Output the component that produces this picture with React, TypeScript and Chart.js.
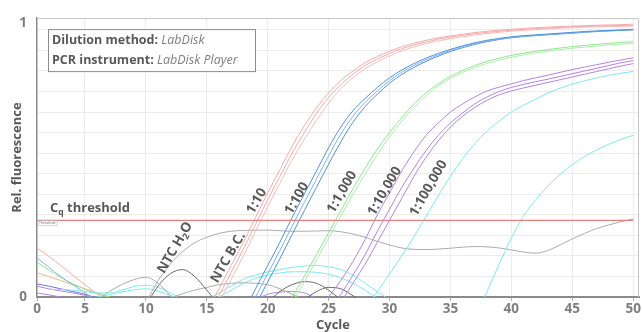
import React, { useEffect, useRef } from "react";
import { Chart, registerables } from "chart.js";
Chart.register(...registerables);

// ---------- axis ----------
const X_MIN = 1.06;
const X_MAX = 50.48;
const Y_MAX = 1.018;
const X_TICKS = [5, 10, 15, 20, 25, 30, 35, 40, 45, 50];
const Y_GRID = [0.075, 0.15, 0.225, 0.3, 0.375, 0.45, 0.525, 0.6, 0.675, 0.75, 0.825, 0.9, 0.975];
const THRESHOLD = 0.28;
const THRESHOLD_END = 50;

// ---------- series (value per cycle, starting at *Start) ----------
const pink1Start = 15;
const pink1 = [-0.06, 0.03, 0.115, 0.2, 0.29, 0.38, 0.465, 0.55, 0.625, 0.69, 0.745, 0.79, 0.825, 0.855, 0.878, 0.897, 0.913, 0.926, 0.937, 0.946, 0.953, 0.959, 0.965, 0.97, 0.974, 0.977, 0.98, 0.983, 0.985, 0.987, 0.989, 0.99, 0.992, 0.993, 0.994, 0.996];
const pink2Start = 15;
const pink2 = [-0.08, 0.005, 0.09, 0.175, 0.265, 0.355, 0.44, 0.525, 0.6, 0.67, 0.728, 0.775, 0.813, 0.845, 0.869, 0.889, 0.906, 0.92, 0.931, 0.941, 0.949, 0.955, 0.961, 0.966, 0.97, 0.974, 0.977, 0.98, 0.982, 0.984, 0.986, 0.988, 0.989, 0.99, 0.991, 0.992];
const pink3Start = 16;
const pink3 = [-0.02, 0.065, 0.15, 0.24, 0.33, 0.415, 0.5, 0.575, 0.645, 0.708, 0.76, 0.8, 0.833, 0.859, 0.88, 0.898, 0.913, 0.925, 0.935, 0.943, 0.95, 0.956, 0.962, 0.966, 0.97, 0.973, 0.976, 0.979, 0.981, 0.983, 0.985, 0.986, 0.987, 0.988, 0.989];

const blue1Start = 18;
const blue1 = [-0.06, 0.03, 0.115, 0.2, 0.29, 0.375, 0.46, 0.545, 0.62, 0.68, 0.725, 0.765, 0.8, 0.828, 0.852, 0.872, 0.889, 0.904, 0.917, 0.928, 0.937, 0.944, 0.95, 0.954, 0.957, 0.96, 0.963, 0.966, 0.969, 0.971, 0.973, 0.975, 0.977];
const blue2Start = 19;
const blue2 = [0.0, 0.085, 0.17, 0.258, 0.345, 0.43, 0.515, 0.595, 0.66, 0.71, 0.752, 0.79, 0.82, 0.845, 0.866, 0.884, 0.9, 0.914, 0.925, 0.934, 0.941, 0.947, 0.952, 0.955, 0.958, 0.961, 0.964, 0.967, 0.97, 0.972, 0.974, 0.976];
const blue3Start = 19;
const blue3 = [-0.03, 0.055, 0.14, 0.228, 0.315, 0.4, 0.485, 0.566, 0.638, 0.695, 0.74, 0.78, 0.812, 0.838, 0.86, 0.879, 0.896, 0.91, 0.922, 0.932, 0.94, 0.946, 0.951, 0.954, 0.957, 0.96, 0.963, 0.966, 0.969, 0.971, 0.973, 0.975];

const green1Start = 21;
const green1 = [-0.07, 0.0, 0.075, 0.155, 0.235, 0.315, 0.395, 0.47, 0.54, 0.6, 0.655, 0.705, 0.745, 0.778, 0.805, 0.827, 0.845, 0.86, 0.872, 0.882, 0.89, 0.897, 0.903, 0.909, 0.914, 0.918, 0.922, 0.926, 0.929, 0.932];
const green2Start = 21;
const green2 = [-0.09, -0.02, 0.055, 0.135, 0.215, 0.295, 0.375, 0.45, 0.52, 0.585, 0.642, 0.692, 0.735, 0.77, 0.798, 0.82, 0.838, 0.853, 0.865, 0.875, 0.884, 0.891, 0.897, 0.903, 0.908, 0.912, 0.916, 0.92, 0.923, 0.926];

const purple1Start = 24;
const purple1 = [-0.07, 0.0, 0.06, 0.13, 0.21, 0.3, 0.38, 0.46, 0.53, 0.59, 0.635, 0.675, 0.705, 0.73, 0.752, 0.766, 0.778, 0.79, 0.8, 0.81, 0.82, 0.83, 0.839, 0.848, 0.857, 0.865, 0.873];
const purple2Start = 25;
const purple2 = [-0.06, 0.01, 0.08, 0.155, 0.24, 0.32, 0.4, 0.47, 0.535, 0.59, 0.635, 0.672, 0.705, 0.73, 0.75, 0.765, 0.776, 0.786, 0.795, 0.805, 0.815, 0.825, 0.835, 0.845, 0.855, 0.863];
const purple3Start = 25;
const purple3 = [-0.09, -0.02, 0.05, 0.12, 0.2, 0.28, 0.36, 0.44, 0.51, 0.57, 0.62, 0.66, 0.692, 0.718, 0.738, 0.752, 0.763, 0.773, 0.783, 0.793, 0.803, 0.813, 0.823, 0.833, 0.843, 0.852];

const cyan1Start = 28;
const cyan1 = [-0.04, 0.02, 0.085, 0.15, 0.22, 0.295, 0.37, 0.44, 0.505, 0.56, 0.605, 0.642, 0.675, 0.7, 0.722, 0.745, 0.762, 0.777, 0.789, 0.8, 0.809, 0.817, 0.823];
const cyan2Start = 37;
const cyan2 = [-0.08, 0.02, 0.12, 0.215, 0.295, 0.355, 0.405, 0.448, 0.483, 0.512, 0.537, 0.558, 0.575, 0.59];

const ntcStart = 10;
const ntc = [-0.02, 0.06, 0.12, 0.165, 0.198, 0.218, 0.232, 0.24, 0.243, 0.244, 0.244, 0.242, 0.24, 0.24, 0.241, 0.242, 0.238, 0.23, 0.218, 0.203, 0.19, 0.179, 0.174, 0.173, 0.175, 0.178, 0.182, 0.184, 0.183, 0.179, 0.172, 0.164, 0.16, 0.17, 0.19, 0.212, 0.232, 0.25, 0.263, 0.275, 0.285];

// low-level baseline curves
const grayHumpStart = 6;
const grayHump = [-0.01, 0.02, 0.045, 0.063, 0.072, 0.05, 0.005, -0.04];
const darkHump1Start = 10;
const darkHump1 = [-0.03, 0.04, 0.085, 0.1, 0.075, 0.025, -0.03];
const grayLowStart = 12;
const grayLow = [-0.005, 0.012, 0.025, 0.035, 0.045, 0.05, 0.052, 0.05, 0.045, 0.03, 0.01, -0.01];
const darkHump2Start = 20;
const darkHump2 = [-0.02, 0.02, 0.045, 0.056, 0.05, 0.025, -0.01];
const darkHump3Start = 23;
const darkHump3 = [-0.01, 0.02, 0.035, 0.03, 0.005, -0.02];
const cyanHump1Start = 15;
const cyanHump1 = [-0.01, 0.015, 0.04, 0.065, 0.08, 0.092, 0.1, 0.108, 0.113, 0.115, 0.11, 0.1, 0.08, 0.05, 0.02, -0.01];
const cyanHump2Start = 16;
const cyanHump2 = [0.0, 0.025, 0.05, 0.068, 0.08, 0.088, 0.092, 0.092, 0.09, 0.083, 0.07, 0.05, 0.025, -0.005];
const purpleLowStart = 19;
const purpleLow = [-0.01, 0.01, 0.018, 0.02, 0.015, -0.005];
const cyanLow1Start = 2;
const cyanLow1 = [0.028, 0.027, 0.025, 0.02, 0.015, 0.015, 0.025, 0.038, 0.043, 0.035, 0.015, -0.01];
const cyanLow2Start = 5;
const cyanLow2 = [-0.01, 0.0, 0.008, 0.018, 0.026, 0.03, 0.022, 0.005, -0.01];
const pinkLeftStart = 1;
const pinkLeft = [0.18, 0.15, 0.115, 0.08, 0.045, 0.01, -0.02];
const blueLeftStart = 1;
const blueLeft = [0.145, 0.11, 0.075, 0.045, 0.015, -0.015];
const greenLeftStart = 1;
const greenLeft = [0.128, 0.1, 0.072, 0.048, 0.028, 0.012, 0.0, -0.01];
const salmonLeftStart = 1;
const salmonLeft = [0.09, 0.075, 0.06, 0.045, 0.03, 0.015, 0.0];
const navyLeftStart = 1;
const navyLeft = [0.048, 0.04, 0.03, 0.02, 0.01, -0.005];
const purpleLeftStart = 1;
const purpleLeft = [0.04, 0.03, 0.022, 0.015, 0.006, -0.005];
const purpleLeft2Start = 1;
const purpleLeft2 = [0.015, 0.008, 0.0, -0.01];

// ---------- labels ----------
const DILUTION_LABELS = ["1:10", "1:100", "1:1,000", "1:10,000", "1:100,000"];
const DILUTION_LABEL_CYCLE = [19.1, 22.4, 26.1, 29.6, 33.2];
const DILUTION_LABEL_VALUE = [0.35, 0.36, 0.383, 0.386, 0.397];

const FONT = '"Open Sans", Lato, sans-serif';
const TXT = "#595959";
const TICK = "#7f7f7f";

function pts(start: number, vals: number[]) {
  return vals.map((y, i) => ({ x: start + i, y }));
}

type Seg = { text: string; font: string; color: string; dy?: number };
function drawRich(ctx: CanvasRenderingContext2D, x: number, y: number, segs: Seg[], align: "left" | "center", angle = 0) {
  ctx.save();
  ctx.translate(x, y);
  ctx.rotate(angle);
  ctx.textBaseline = "middle";
  ctx.textAlign = "left";
  const widths = segs.map((s) => {
    ctx.font = s.font;
    return ctx.measureText(s.text).width;
  });
  const total = widths.reduce((a, b) => a + b, 0);
  let cx = align === "center" ? -total / 2 : 0;
  segs.forEach((s, i) => {
    ctx.font = s.font;
    ctx.fillStyle = s.color;
    ctx.fillText(s.text, cx, s.dy || 0);
    cx += widths[i];
  });
  ctx.restore();
}

const B13 = `bold 12.5px ${FONT}`;
const B9 = `bold 8.5px ${FONT}`;
const I13 = `italic 12.5px ${FONT}`;
const BL = `bold 13.5px ${FONT}`;
const BL9 = `bold 9px ${FONT}`;
const BT = `bold 13px ${FONT}`;

const decorPlugin = {
  id: "decor",
  afterDraw(chart: any) {
    const { ctx, chartArea, scales } = chart;
    const xs = scales.x;
    const ys = scales.y;
    ctx.save();
    // frame top/right
    ctx.strokeStyle = "#c6c6c6";
    ctx.lineWidth = 1;
    ctx.beginPath();
    ctx.moveTo(chartArea.left, chartArea.top + 0.5);
    ctx.lineTo(chartArea.right - 0.5, chartArea.top + 0.5);
    ctx.lineTo(chartArea.right - 0.5, chartArea.bottom);
    ctx.stroke();

    // info box
    const bx = chartArea.left + 11;
    const by = chartArea.top + 11;
    ctx.fillStyle = "#ffffff";
    ctx.fillRect(bx, by, 207, 42);
    ctx.strokeStyle = "#8c8c8c";
    ctx.strokeRect(bx + 0.5, by + 0.5, 207, 42);
    drawRich(ctx, bx + 4, by + 11, [
      { text: "Dilution method: ", font: B13, color: TXT },
      { text: "LabDisk", font: I13, color: TICK },
    ], "left");
    drawRich(ctx, bx + 4, by + 31, [
      { text: "PCR instrument: ", font: B13, color: TXT },
      { text: "LabDisk Player", font: I13, color: TICK },
    ], "left");

    // threshold label
    const ty = ys.getPixelForValue(THRESHOLD);
    drawRich(ctx, chartArea.left + 13, ty - 12, [
      { text: "C", font: BT, color: TXT },
      { text: "q", font: B9, color: TXT, dy: 4 },
      { text: " threshold", font: BT, color: TXT },
    ], "left");
    // tiny threshold tag
    ctx.fillStyle = "#ffffff";
    ctx.fillRect(chartArea.left + 1, ty + 0.5, 19, 5);
    ctx.strokeStyle = "#b0b0b0";
    ctx.lineWidth = 0.5;
    ctx.strokeRect(chartArea.left + 1, ty + 0.5, 19, 5);
    ctx.font = `3.5px ${FONT}`;
    ctx.fillStyle = "#666";
    ctx.textBaseline = "middle";
    ctx.textAlign = "left";
    ctx.fillText("Threshold", chartArea.left + 2, ty + 3);

    // dilution labels
    const ang = (-60 * Math.PI) / 180;
    DILUTION_LABELS.forEach((t, i) => {
      drawRich(ctx, xs.getPixelForValue(DILUTION_LABEL_CYCLE[i]), ys.getPixelForValue(DILUTION_LABEL_VALUE[i]),
        [{ text: t, font: BL, color: TXT }], "center", ang);
    });
    drawRich(ctx, xs.getPixelForValue(12.4), ys.getPixelForValue(0.18), [
      { text: "NTC H", font: BL, color: TXT },
      { text: "2", font: BL9, color: TXT, dy: 4 },
      { text: "O", font: BL, color: TXT },
    ], "center", ang);
    drawRich(ctx, xs.getPixelForValue(16.75), ys.getPixelForValue(0.144), [
      { text: "NTC B.C.", font: BL, color: TXT },
    ], "center", ang);

    // axis titles
    drawRich(ctx, 17, (chartArea.top + chartArea.bottom) / 2, [
      { text: "Rel. fluorescence", font: BT, color: TXT },
    ], "center", -Math.PI / 2);
    drawRich(ctx, (chartArea.left + chartArea.right) / 2 - 5, 325, [
      { text: "Cycle", font: BT, color: TXT },
    ], "center");
    ctx.restore();
  },
};

export default function App() {
  const ref = useRef<HTMLCanvasElement>(null);
  useEffect(() => {
    if (!ref.current) return;
    const line = (data: { x: number; y: number }[], color: string, width = 1) => ({
      data,
      borderColor: color,
      backgroundColor: color,
      borderWidth: width,
      pointRadius: 0,
      fill: false,
      cubicInterpolationMode: "monotone" as const,
    });
    const PINK = "#f5aaaa";
    const BLUE = "#4f92de";
    const BLUE2 = "#82b3ea";
    const GREEN = "#8de68d";
    const PURPLE = "#b483e6";
    const CYAN = "#7eeaea";
    const GRAY = "#ababab";
    const DARK = "#6a6a6a";

    const chart = new Chart(ref.current, {
      type: "line",
      data: {
        datasets: [
          line([{ x: X_MIN, y: THRESHOLD }, { x: THRESHOLD_END, y: THRESHOLD }], "#e67f7f", 1.2),
          line(pts(pink1Start, pink1), PINK),
          line(pts(pink2Start, pink2), PINK),
          line(pts(pink3Start, pink3), "#f7bcbc"),
          line(pts(blue1Start, blue1), BLUE),
          line(pts(blue2Start, blue2), BLUE2),
          line(pts(blue3Start, blue3), BLUE),
          line(pts(green1Start, green1), GREEN),
          line(pts(green2Start, green2), "#aaeeaa"),
          line(pts(purple1Start, purple1), PURPLE),
          line(pts(purple2Start, purple2), PURPLE),
          line(pts(purple3Start, purple3), PURPLE),
          line(pts(cyan1Start, cyan1), CYAN),
          line(pts(cyan2Start, cyan2), CYAN),
          line(pts(ntcStart, ntc), GRAY),
          line(pts(grayHumpStart, grayHump), GRAY),
          line(pts(darkHump1Start, darkHump1), DARK),
          line(pts(grayLowStart, grayLow), GRAY),
          line(pts(darkHump2Start, darkHump2), DARK),
          line(pts(darkHump3Start, darkHump3), DARK),
          line(pts(cyanHump1Start, cyanHump1), CYAN),
          line(pts(cyanHump2Start, cyanHump2), CYAN),
          line(pts(purpleLowStart, purpleLow), PURPLE),
          line(pts(cyanLow1Start, cyanLow1), CYAN),
          line(pts(cyanLow2Start, cyanLow2), CYAN),
          line(pts(pinkLeftStart, pinkLeft), PINK),
          line(pts(blueLeftStart, blueLeft), BLUE2),
          line(pts(greenLeftStart, greenLeft), GREEN),
          line(pts(salmonLeftStart, salmonLeft), "#f0b494"),
          line(pts(navyLeftStart, navyLeft), "#7373e0"),
          line(pts(purpleLeftStart, purpleLeft), PURPLE),
          line(pts(purpleLeft2Start, purpleLeft2), PURPLE),
        ],
      },
      options: {
        animation: false,
        responsive: true,
        maintainAspectRatio: false,
        layout: { padding: { top: 15, right: 3, left: 0, bottom: 0 } },
        plugins: { legend: { display: false }, tooltip: { enabled: false } },
        scales: {
          x: {
            type: "linear",
            min: X_MIN,
            max: X_MAX,
            afterBuildTicks: (s: any) => {
              s.ticks = [X_MIN, ...X_TICKS].map((v) => ({ value: v }));
            },
            afterFit: (s: any) => {
              s.height = 35;
            },
            ticks: {
              autoSkip: false,
              maxRotation: 0,
              padding: 0,
              color: TICK,
              font: { family: FONT, size: 13.5, weight: "bold" },
              callback: (v: any) => (v === X_MIN ? "0" : String(v)),
            },
            grid: {
              color: (c: any) => (c.tick && c.tick.value === X_MIN ? "rgba(0,0,0,0)" : "#ececec"),
              tickColor: "#b0b0b0",
              tickLength: 4,
            },
            border: { display: true, color: "#8a8a8a", width: 2 },
          },
          y: {
            type: "linear",
            min: 0,
            max: Y_MAX,
            afterBuildTicks: (s: any) => {
              s.ticks = [0, ...Y_GRID, 1].map((v) => ({ value: v }));
            },
            afterFit: (s: any) => {
              s.width = 37;
            },
            ticks: {
              autoSkip: false,
              padding: 10,
              color: TICK,
              font: { family: FONT, size: 13.5, weight: "bold" },
              callback: (v: any) => (v === 0 ? "0" : v === 1 ? "1" : ""),
            },
            grid: {
              color: (c: any) => (c.tick && (c.tick.value === 1 || c.tick.value === 0) ? "rgba(0,0,0,0)" : "#ececec"),
              drawTicks: false,
            },
            border: { display: true, color: "#8a8a8a", width: 1.5 },
          },
        },
      },
      plugins: [decorPlugin],
    } as any);
    return () => chart.destroy();
  }, []);
  return (
    <div style={{ position: "fixed", left: 0, top: 0, width: 642, height: 332, background: "#fff" }}>
      <canvas ref={ref} width={642} height={332} />
    </div>
  );
}
